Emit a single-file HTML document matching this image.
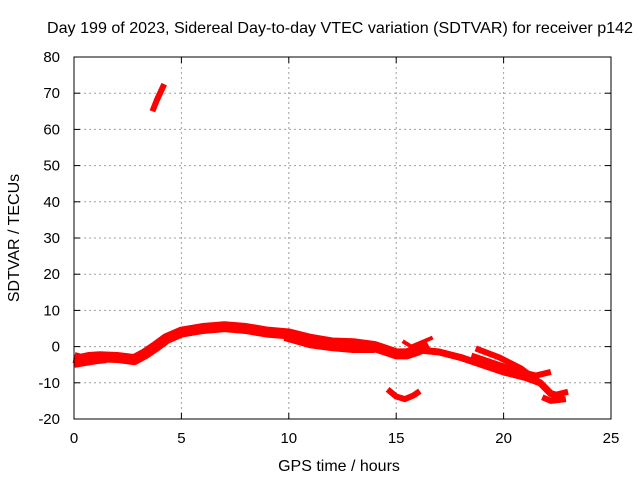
<!DOCTYPE html>
<html><head><meta charset="utf-8"><style>
body{margin:0;background:#fff;}
svg{display:block;font-family:"Liberation Sans",sans-serif;}
</style></head><body>
<svg id="chart" width="640" height="480">
<rect width="640" height="480" fill="#fff"/>
<g id="grid"></g>
<g id="series"></g>
<rect x="74" y="57" width="537" height="362" fill="none" stroke="#000" stroke-width="1"/>
<g id="axes"></g>
<text x="340" y="33" text-anchor="middle" font-size="16" textLength="586" lengthAdjust="spacingAndGlyphs">Day 199 of 2023, Sidereal Day-to-day VTEC variation (SDTVAR) for receiver p142</text>
<text x="339" y="471" text-anchor="middle" font-size="16">GPS time / hours</text>
<text transform="translate(19,238) rotate(-90)" text-anchor="middle" font-size="16">SDTVAR / TECUs</text>
</svg>
<script>
const xTicks=[0,5,10,15,20,25];
const yTicks=[-20,-10,0,10,20,30,40,50,60,70,80];
const trackMain=[[0,-3],[0.3,-3.5],[0.7,-3],[1.2,-2.8],[2,-3],[2.8,-3.6],[3.3,-2],[3.8,0],[4.3,2.2],[5,4],[6,5],[7,5.5],[8,5],[9,4],[10,3.5],[11,2],[12,1],[13,0.8],[14,0],[14.5,-1],[15,-2],[15.5,-2],[16,-1],[16.5,0.5]];
const trackBandLow=[[0,-4.5],[0.5,-4],[1,-3.5],[1.5,-3.2]];
const trackMainLow=[[9.8,2.5],[11,0.5],[12,-0.3],[13,-0.8],[14,-0.8]];
const trackTop=[[3.65,65],[3.85,68],[4.2,72.5]];
const trackArc=[[14.6,-11.8],[15,-13.8],[15.4,-14.5],[15.8,-13.5],[16.1,-12.3]];
const trackA=[[16.2,-1],[17,-1.5],[18,-3],[19,-5],[20,-7],[21,-8.5],[21.7,-10],[22.2,-13],[22.8,-14]];
const trackB=[[18.5,-2.5],[19.5,-4.5],[20.5,-6.5],[21.5,-8],[22.2,-7]];
const trackC=[[18.7,-0.5],[19.8,-3],[20.8,-6],[21.6,-9.5],[22.3,-13.5],[23,-12.5]];
const trackD=[[21.8,-14],[22.2,-15],[22.9,-14.5]];
const trackE=[[15.3,1.5],[15.7,0],[16.3,1.5],[16.7,2.5]];
const tracks=[trackMain,trackBandLow,trackMainLow,trackTop,trackArc,trackA,trackB,trackC,trackD,trackE];
const widths=[11,10,7,6,6,7,6,6,6,4];
const X=v=>74+v*537/25, Y=v=>419-(v+20)*3.62;
const ns="http://www.w3.org/2000/svg";
const grid=document.getElementById('grid'),axes=document.getElementById('axes'),ser=document.getElementById('series');
function mk(tag,attrs,parent){const e=document.createElementNS(ns,tag);for(const k in attrs)e.setAttribute(k,attrs[k]);parent.appendChild(e);return e;}
xTicks.forEach(t=>{
 if(t>0&&t<25){const l=mk('line',{x1:X(t),x2:X(t),y1:57,y2:419,stroke:'#a0a0a0','stroke-dasharray':'2,3'},grid);
 
 }
 mk('line',{x1:X(t),x2:X(t),y1:419,y2:413,stroke:'#000'},axes);
 mk('line',{x1:X(t),x2:X(t),y1:57,y2:63,stroke:'#000'},axes);
 const tx=mk('text',{x:X(t),y:443,'text-anchor':'middle','font-size':15},axes);tx.textContent=t;
 
 
});
yTicks.forEach(t=>{
 if(t>-20&&t<80){const l=mk('line',{x1:74,x2:611,y1:Y(t),y2:Y(t),stroke:'#a0a0a0','stroke-dasharray':'2,3'},grid);
 
 }
 mk('line',{x1:74,x2:80,y1:Y(t),y2:Y(t),stroke:'#000'},axes);
 mk('line',{x1:605,x2:611,y1:Y(t),y2:Y(t),stroke:'#000'},axes);
 const tx=mk('text',{x:60,y:Y(t)+5,'text-anchor':'end','font-size':15},axes);tx.textContent=t;
 
 
});
tracks.forEach((tr,i)=>{
 const p=mk('polyline',{points:tr.map(d=>X(d[0])+','+Y(d[1])).join(' '),fill:'none',stroke:'#f00','stroke-width':widths[i],'stroke-linejoin':'round'},ser);
 
 
});
</script>
</body></html>
